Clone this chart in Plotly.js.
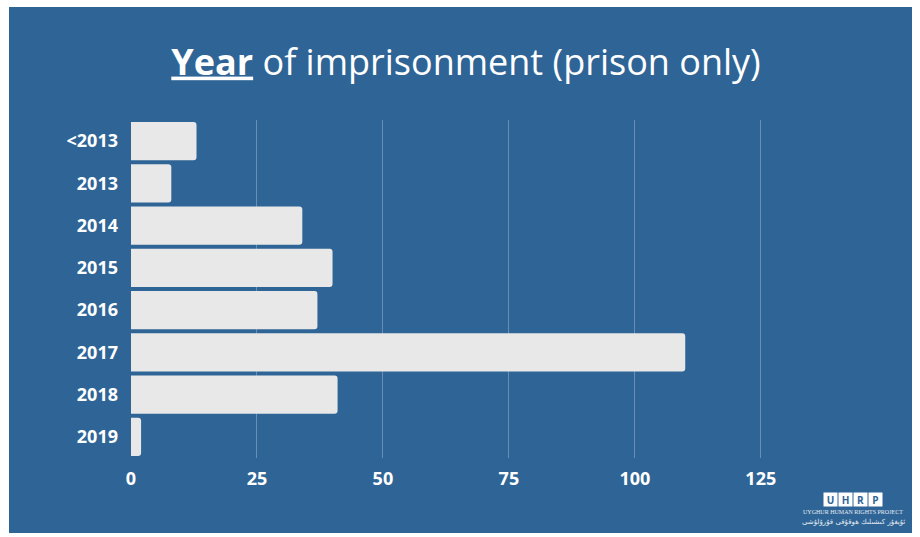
<!DOCTYPE html>
<html>
<head>
<meta charset="utf-8">
<script src="https://cdn.plot.ly/plotly-3.0.1.min.js"></script>
<style>
  html, body { margin: 0; padding: 0; background: #ffffff; width: 920px; height: 537px; overflow: hidden; }
  #chart { position: absolute; left: 9px; top: 7px; width: 903px; height: 526px; }
</style>
</head>
<body>
<div id="chart"></div>
<script>
const categories = ['&lt;2013', '2013', '2014', '2015', '2016', '2017', '2018', '2019'];
const counts = [13, 8, 34, 40, 37, 110, 41, 2];
const xTickValues = [0, 25, 50, 75, 100, 125];

const W = 903, H = 526;
const M = { l: 122, r: 126, t: 113, b: 75 };
const pw = W - M.l - M.r, ph = H - M.t - M.b;
// convert absolute page pixel to paper coords
function px(x) { return (x - 9 - M.l) / pw; }
function py(y) { return 1 - (y - 7 - M.t) / ph; }

const BLUE = '#2f6596';

const trace = {
  type: 'bar',
  orientation: 'h',
  y: categories,
  x: counts,
  marker: { color: '#e8e8e8', line: { width: 0 } },
  hoverinfo: 'none'
};

const logoLetters = ['U', 'H', 'R', 'P'];
const annotations = [];
logoLetters.forEach((L, i) => {
  annotations.push({
    xref: 'paper', yref: 'paper',
    x: px(830 + i * 15), y: py(499),
    xanchor: 'center', yanchor: 'middle',
    text: '<b>' + L + '</b>',
    showarrow: false,
    bgcolor: '#ffffff',
    width: 11, height: 11,
    borderpad: 1,
    font: { family: 'Open Sans, sans-serif', size: 10, color: BLUE }
  });
});
annotations.push({
  xref: 'paper', yref: 'paper',
  x: px(853), y: py(512), xanchor: 'center', yanchor: 'middle',
  text: 'UYGHUR HUMAN RIGHTS PROJECT', showarrow: false,
  font: { family: 'Liberation Serif, serif', size: 6, color: '#e6ecf3' }
});
annotations.push({
  xref: 'paper', yref: 'paper',
  x: px(853), y: py(522), xanchor: 'center', yanchor: 'middle',
  text: 'ئۇيغۇر كىشىلىك ھوقۇقى قۇرۇلۇشى', showarrow: false,
  font: { family: 'DejaVu Sans, sans-serif', size: 7, color: '#e6ecf3' }
});

const layout = {
  width: W, height: H,
  margin: M,
  paper_bgcolor: BLUE,
  plot_bgcolor: BLUE,
  showlegend: false,
  bargap: 0.1,
  barcornerradius: 3,
  title: {
    text: '<b><span style="text-decoration:underline">Year</span></b> of imprisonment (prison only)',
    font: { family: 'Open Sans, sans-serif', size: 36, color: '#ffffff' },
    x: (466 - 9) / W, xref: 'container', xanchor: 'center',
    y: 1 - 55 / H, yref: 'container', yanchor: 'middle'
  },
  xaxis: {
    range: [0, 130],
    tickvals: xTickValues,
    showgrid: true,
    gridcolor: 'rgba(255,255,255,0.28)',
    gridwidth: 1,
    zeroline: false,
    showline: false,
    ticks: '',
    ticklabelstandoff: 8,
    tickfont: { family: 'Open Sans, sans-serif', size: 18, color: '#ffffff', weight: 'bold' },
    fixedrange: true
  },
  yaxis: {
    type: 'category',
    autorange: 'reversed',
    showgrid: false,
    zeroline: false,
    showline: false,
    ticks: '',
    ticklabelstandoff: 12,
    tickfont: { family: 'Open Sans, sans-serif', size: 18, color: '#ffffff', weight: 'bold' },
    fixedrange: true
  },
  annotations: annotations
};

Plotly.newPlot('chart', [trace], layout, { displayModeBar: false, staticPlot: true });
</script>
</body>
</html>
